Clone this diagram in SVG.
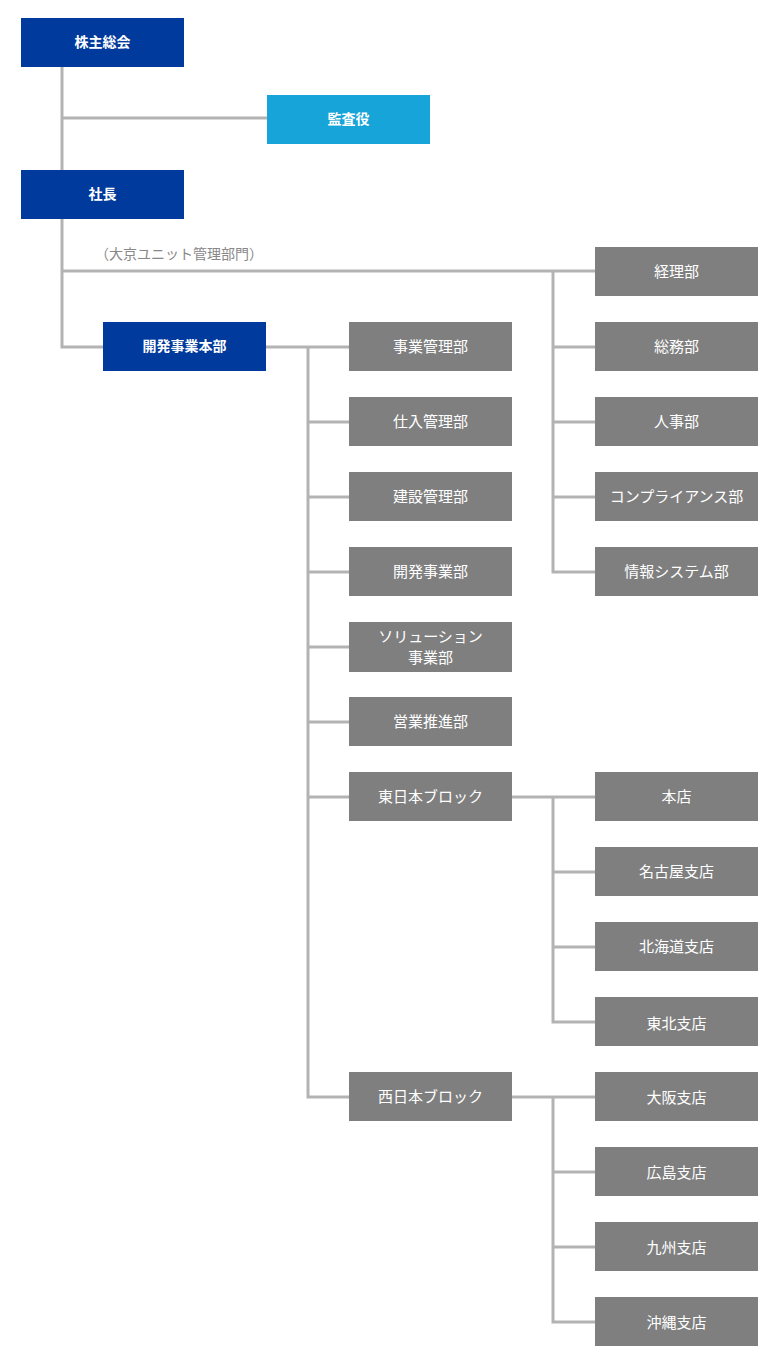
<svg xmlns="http://www.w3.org/2000/svg" width="782" height="1364" viewBox="0 0 782 1364">
<style>
.b{fill:#003a9c}
.c{fill:#17a4d9}
.g{fill:#7f7f7f}
.t{font-family:"Noto Sans CJK JP","Noto Sans",sans-serif;font-size:15px;fill:#fff;text-anchor:middle;dominant-baseline:central}
.bt{font-weight:bold;font-size:14px}
.l{fill:none;stroke:#b3b3b3;stroke-width:3}
.lab{font-family:"Noto Sans CJK JP","Noto Sans",sans-serif;font-size:14px;fill:#888}
</style>
<rect width="782" height="1364" fill="#fff"/>
<g id="connectors">
<path class="l" d="M62 67V347H103"/>
<path class="l" d="M62 118H267"/>
<path class="l" d="M62 271H595"/>
<path class="l" d="M553 271V572H595M553 347H595M553 422H595M553 497H595"/>
<path class="l" d="M266 347H349M308 347V1097H349M308 422H349M308 497H349M308 572H349M308 647H349M308 722H349M308 797H349"/>
<path class="l" d="M512 797H595M553 797V1022H595M553 872H595M553 947H595"/>
<path class="l" d="M512 1097H595M553 1097V1322H595M553 1172H595M553 1247H595"/>
</g>
<text class="lab" x="95" y="259">（大京ユニット管理部門）</text>
<g id="n1"><rect class="b" x="21" y="18" width="163" height="49"/><text class="t bt" x="102.5" y="41">株主総会</text></g>
<g id="n2"><rect class="c" x="267" y="95" width="163" height="49"/><text class="t bt" x="348.5" y="118">監査役</text></g>
<g id="n3"><rect class="b" x="21" y="170" width="163" height="49"/><text class="t bt" x="102.5" y="193">社長</text></g>
<g id="n4"><rect class="b" x="103" y="322" width="163" height="49"/><text class="t bt" x="184.5" y="345">開発事業本部</text></g>
<g id="n5"><rect class="g" x="349" y="322" width="163" height="49"/><text class="t" x="430.5" y="345">事業管理部</text></g>
<g id="n6"><rect class="g" x="349" y="397" width="163" height="49"/><text class="t" x="430.5" y="420">仕入管理部</text></g>
<g id="n7"><rect class="g" x="349" y="472" width="163" height="49"/><text class="t" x="430.5" y="495">建設管理部</text></g>
<g id="n8"><rect class="g" x="349" y="547" width="163" height="49"/><text class="t" x="430.5" y="570">開発事業部</text></g>
<g id="n9"><rect class="g" x="349" y="622" width="163" height="50"/><text class="t" x="430.5" y="635">ソリューション</text><text class="t" x="430.5" y="656">事業部</text></g>
<g id="n10"><rect class="g" x="349" y="697" width="163" height="49"/><text class="t" x="430.5" y="720">営業推進部</text></g>
<g id="n11"><rect class="g" x="349" y="772" width="163" height="49"/><text class="t" x="430.5" y="795">東日本ブロック</text></g>
<g id="n12"><rect class="g" x="349" y="1072" width="163" height="49"/><text class="t" x="430.5" y="1095">西日本ブロック</text></g>
<g id="n13"><rect class="g" x="595" y="247" width="163" height="49"/><text class="t" x="676.5" y="270">経理部</text></g>
<g id="n14"><rect class="g" x="595" y="322" width="163" height="49"/><text class="t" x="676.5" y="345">総務部</text></g>
<g id="n15"><rect class="g" x="595" y="397" width="163" height="49"/><text class="t" x="676.5" y="420">人事部</text></g>
<g id="n16"><rect class="g" x="595" y="472" width="163" height="49"/><text class="t" x="676.5" y="495">コンプライアンス部</text></g>
<g id="n17"><rect class="g" x="595" y="547" width="163" height="49"/><text class="t" x="676.5" y="570">情報システム部</text></g>
<g id="n18"><rect class="g" x="595" y="772" width="163" height="49"/><text class="t" x="676.5" y="795">本店</text></g>
<g id="n19"><rect class="g" x="595" y="847" width="163" height="49"/><text class="t" x="676.5" y="870">名古屋支店</text></g>
<g id="n20"><rect class="g" x="595" y="922" width="163" height="49"/><text class="t" x="676.5" y="945">北海道支店</text></g>
<g id="n21"><rect class="g" x="595" y="997" width="163" height="49"/><text class="t" x="676.5" y="1022">東北支店</text></g>
<g id="n22"><rect class="g" x="595" y="1072" width="163" height="49"/><text class="t" x="676.5" y="1096">大阪支店</text></g>
<g id="n23"><rect class="g" x="595" y="1147" width="163" height="49"/><text class="t" x="676.5" y="1171">広島支店</text></g>
<g id="n24"><rect class="g" x="595" y="1222" width="163" height="49"/><text class="t" x="676.5" y="1246">九州支店</text></g>
<g id="n25"><rect class="g" x="595" y="1297" width="163" height="49"/><text class="t" x="676.5" y="1321">沖縄支店</text></g>
</svg>
